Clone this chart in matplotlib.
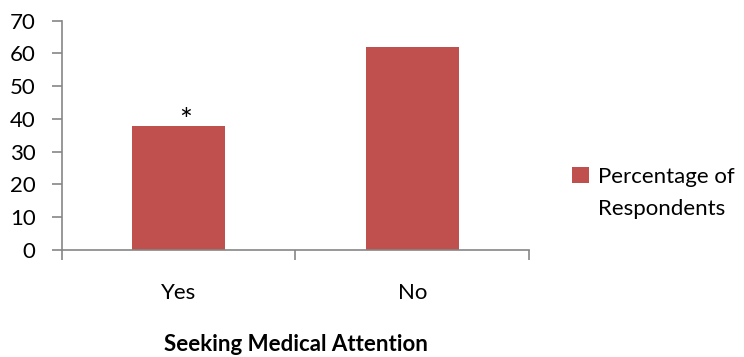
import matplotlib.pyplot as plt
from matplotlib.patches import Patch

categories = ["Yes", "No"]
percentages = [38, 62]
legend_lines = ["Percentage of", "Respondents"]
yticks = [0, 10, 20, 30, 40, 50, 60, 70]

plt.rcParams["font.family"] = ["Lato", "DejaVu Sans"]

bar_color = "#c0504d"
axis_color = "#868686"
fs = 16

fig = plt.figure(figsize=(7.44, 3.57), dpi=100)
ax = fig.add_axes([0.0833, 0.2997, 0.6277, 0.6423])

x = range(len(categories))
bars = ax.bar(x, percentages, width=0.4, color=bar_color, zorder=2)

# significance marker above the "Yes" bar (glyph sits high in its box)
ax.text(0.03, percentages[0] - 2.8, "*", ha="center", va="bottom", fontsize=22)

ax.set_xlim(-0.5, 1.5)
ax.set_ylim(0, 70)
ax.set_yticks(yticks)

# category labels centred, tick marks on category boundaries
ax.set_xticks([-0.5, 0.5, 1.5])
ax.set_xticklabels([])
ax.set_xticks(list(x), minor=True)
ax.set_xticklabels(categories, minor=True)
ax.tick_params(axis="x", which="major", direction="out", length=7, width=1.2, color=axis_color)
ax.tick_params(axis="x", which="minor", length=0, pad=24, labelsize=fs)
ax.tick_params(axis="y", direction="out", length=7, width=1.2, color=axis_color, labelsize=fs, pad=12)

for side in ("top", "right"):
    ax.spines[side].set_visible(False)
for side in ("left", "bottom"):
    ax.spines[side].set_color(axis_color)
    ax.spines[side].set_linewidth(1.2)

ax.set_xlabel("Seeking Medical Attention", fontsize=fs, fontweight="bold", labelpad=22)

handles = [Patch(facecolor=bar_color, edgecolor="none"), Patch(facecolor="none", edgecolor="none")]
fig.legend(handles, legend_lines, loc="upper left", bbox_to_anchor=(0.769, 0.533),
           frameon=False, fontsize=fs, handlelength=0.75, handleheight=0.75,
           handletextpad=0.4, labelspacing=0.55, borderpad=0, borderaxespad=0)

fig.savefig("out.png", dpi=100)
